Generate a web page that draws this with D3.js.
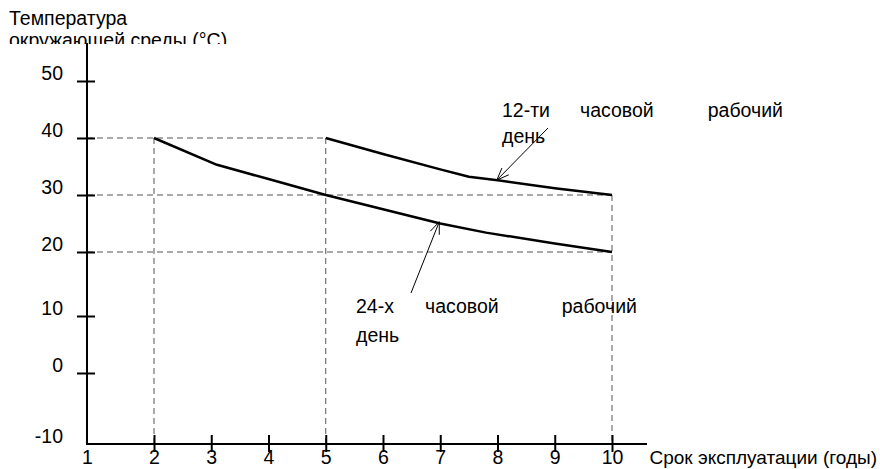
<!DOCTYPE html>
<html>
<head>
<meta charset="utf-8">
<script src="https://cdn.jsdelivr.net/npm/d3@7"></script>
<style>
  html, body { margin: 0; padding: 0; background: #fff; }
  svg { display: block; font-family: "Liberation Sans", Arial, sans-serif; }
</style>
</head>
<body>
<svg id="chart" width="880" height="469"></svg>
<script>
// ---- data ----
const yearTicks = [1, 2, 3, 4, 5, 6, 7, 8, 9, 10];
const tempTicks = [-10, 0, 10, 20, 30, 40, 50];

const years12h = [5, 6, 7, 7.5, 8, 9, 10];
const temps12h = [40, 37.2, 34.5, 33.2, 32.6, 31.2, 30];

const years24h = [2, 3.1, 4, 5, 6, 7, 7.8, 9, 10];
const temps24h = [40, 35.3, 32.8, 30, 27.5, 25.0, 23.4, 21.5, 20];

// dashed guides: horizontal [temp, fromYear, toYear], vertical [year, fromTemp]
const guideH = [[40, 1, 5], [30, 1, 10], [20, 1, 10]];
const guideV = [[2, 40], [5, 40], [10, 30]];

const yTitle = ["Температура", "окружающей среды (°С)"];
const xTitle = "Срок эксплуатации (годы)";
const label12 = ["12-ти", "часовой", "рабочий", "день"];
const label24 = ["24-х", "часовой", "рабочий", "день"];

// ---- layout ----
const svg = d3.select("#chart");
const x = d3.scaleLinear().domain([1, 2, 10]).range([87, 154, 612]);
const y = d3.scaleLinear().domain([-10, 0, 10, 20, 50]).range([444, 373, 316, 252, 81]);
const FS = 19.5;
const FF = "Liberation Sans, Arial, sans-serif";

// dashed guides
const gGuide = svg.append("g").attr("stroke", "#555").attr("stroke-width", 1)
  .attr("stroke-dasharray", "6,4").attr("fill", "none");
guideH.forEach(([t, a, b]) => {
  gGuide.append("line").attr("x1", x(a)).attr("x2", x(b)).attr("y1", y(t)).attr("y2", y(t));
});
guideV.forEach(([yr, t]) => {
  gGuide.append("line").attr("x1", x(yr)).attr("x2", x(yr)).attr("y1", y(t)).attr("y2", y(-10));
});

// axes lines
svg.append("line").attr("x1", x(1)).attr("x2", x(1)).attr("y1", 43).attr("y2", y(-10) + 1)
  .attr("stroke", "#000").attr("stroke-width", 2);
svg.append("line").attr("x1", x(1) - 1).attr("x2", 647).attr("y1", y(-10)).attr("y2", y(-10))
  .attr("stroke", "#000").attr("stroke-width", 2);

// y axis
const yAxis = svg.append("g").attr("transform", `translate(${x(1)},0)`)
  .call(d3.axisLeft(y).tickValues(tempTicks).tickSize(10).tickFormat(d => String(d)));
yAxis.select(".domain").remove();
yAxis.selectAll(".tick line").attr("x1", 8).attr("x2", -10).attr("stroke", "#000").attr("stroke-width", 2)
  .filter(d => d === -10).remove();
yAxis.selectAll(".tick text").attr("x", -24).attr("dy", "-0.1em").attr("font-size", FS)
  .attr("font-family", FF).attr("fill", "#000");

// x axis
const xAxis = svg.append("g").attr("transform", `translate(0,${y(-10)})`)
  .call(d3.axisBottom(x).tickValues(yearTicks).tickSize(8).tickFormat(d => String(d)));
xAxis.select(".domain").remove();
xAxis.selectAll(".tick line").attr("y1", -9).attr("y2", 8).attr("stroke", "#000").attr("stroke-width", 2)
  .filter(d => d === 1).remove();
xAxis.selectAll(".tick text").attr("y", 20).attr("dy", 0).attr("font-size", FS)
  .attr("font-family", FF).attr("fill", "#000");

svg.append("text").attr("x", 877).attr("y", 464).attr("text-anchor", "end")
  .attr("font-size", 19).text(xTitle);

// y title (second line clipped as in source)
svg.append("clipPath").attr("id", "titleClip").append("rect")
  .attr("x", 0).attr("y", 0).attr("width", 300).attr("height", 44);
const tTitle = svg.append("g").attr("clip-path", "url(#titleClip)");
tTitle.append("text").attr("x", 9).attr("y", 25).attr("font-size", FS).text(yTitle[0]);
tTitle.append("text").attr("x", 9).attr("y", 47).attr("font-size", FS).text(yTitle[1]);

// curves
const line = d3.line().x(d => x(d[0])).y(d => y(d[1]));
svg.append("path").datum(d3.zip(years12h, temps12h)).attr("d", line)
  .attr("fill", "none").attr("stroke", "#000").attr("stroke-width", 2.5).attr("stroke-linejoin", "round");
svg.append("path").datum(d3.zip(years24h, temps24h)).attr("d", line)
  .attr("fill", "none").attr("stroke", "#000").attr("stroke-width", 2.5).attr("stroke-linejoin", "round");

// arrows
function arrow(x1, y1, x2, y2) {
  const g = svg.append("g").attr("stroke", "#000").attr("stroke-width", 1).attr("fill", "none");
  g.append("line").attr("x1", x1).attr("y1", y1).attr("x2", x2).attr("y2", y2);
  const ang = Math.atan2(y1 - y2, x1 - x2);
  const L = 13, a = 0.38;
  [ang - a, ang + a].forEach(t => {
    g.append("line").attr("x1", x2).attr("y1", y2)
      .attr("x2", x2 + L * Math.cos(t)).attr("y2", y2 + L * Math.sin(t));
  });
}
arrow(548, 128, x(7.5) + 28, y(32.8) + 1);
arrow(411, 293, x(7) - 1, y(25.3));

// annotation labels
const ann = svg.append("g").attr("font-size", FS).attr("fill", "#000");
ann.append("text").attr("x", 502).attr("y", 117).text(label12[0]);
ann.append("text").attr("x", 580).attr("y", 117).text(label12[1]);
ann.append("text").attr("x", 783).attr("y", 117).attr("text-anchor", "end").text(label12[2]);
ann.append("text").attr("x", 502).attr("y", 143).text(label12[3]);

ann.append("text").attr("x", 356).attr("y", 313).text(label24[0]);
ann.append("text").attr("x", 425).attr("y", 313).text(label24[1]);
ann.append("text").attr("x", 637).attr("y", 313).attr("text-anchor", "end").text(label24[2]);
ann.append("text").attr("x", 356).attr("y", 342).text(label24[3]);
</script>
</body>
</html>
